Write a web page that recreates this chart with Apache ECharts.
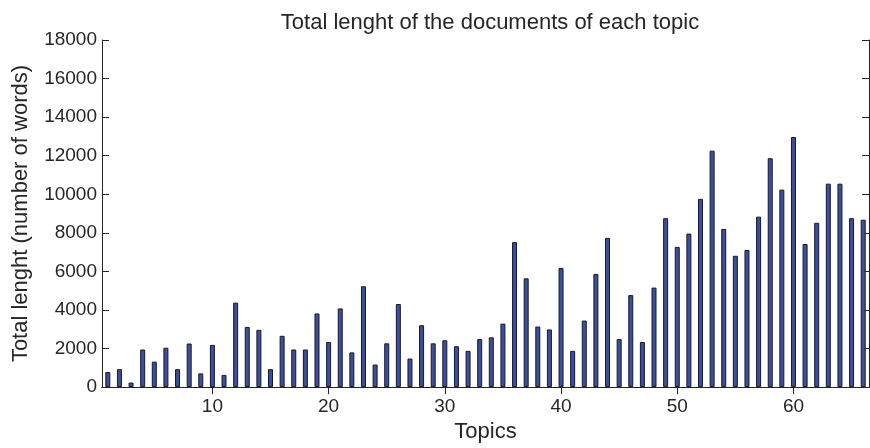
<!DOCTYPE html>
<html>
<head>
<meta charset="utf-8">
<script src="https://cdn.jsdelivr.net/npm/echarts@6/dist/echarts.min.js"></script>
<style>
  html, body { margin: 0; padding: 0; background: #fff; }
  #chart { width: 870px; height: 448px; }
</style>
</head>
<body>
<div id="chart"></div>
<script>
// Topic index for each bar
var topics = [
  1, 2, 3, 4, 5, 6, 7, 8, 9, 10,
  11, 12, 13, 14, 15, 16, 17, 18, 19, 20,
  21, 22, 23, 24, 25, 26, 27, 28, 29, 30,
  31, 32, 33, 34, 35, 36, 37, 38, 39, 40,
  41, 42, 43, 44, 45, 46, 47, 48, 49, 50,
  51, 52, 53, 54, 55, 56, 57, 58, 59, 60,
  61, 62, 63, 64, 65, 66
];

// Total number of words in the documents of each topic
var totalLength = [
  780, 930, 235, 1950, 1320, 2040, 930, 2260, 710, 2190,
  630, 4380, 3120, 2970, 930, 2660, 1950, 1950, 3820, 2340,
  4080, 1800, 5230, 1170, 2270, 4310, 1480, 3210, 2270, 2430,
  2120, 1880, 2490, 2580, 3290, 7520, 5640, 3140, 2990, 6180,
  1880, 3450, 5870, 7740, 2490, 4770, 2340, 5160, 8760, 7270,
  7960, 9760, 12260, 8200, 6810, 7110, 8840, 11870, 10240, 12970,
  7420, 8520, 10550, 10550, 8760, 8680
];

// Labelled ticks on the topic axis
var topicTicks = [10, 20, 30, 40, 50, 60];

var ink = '#262626';
var font = 'Liberation Sans, Arial, Helvetica, sans-serif';

function isTick(idx) {
  return topicTicks.indexOf(topics[idx]) !== -1;
}

var chart = echarts.init(document.getElementById('chart'), null, { renderer: 'canvas' });

var xBase = {
  type: 'category',
  data: topics,
  boundaryGap: true,
  axisLine: { show: true, lineStyle: { color: ink, width: 1 } },
  axisTick: {
    show: true, inside: true, length: 7, alignWithLabel: true,
    interval: function (idx) { return isTick(idx); },
    lineStyle: { color: ink, width: 1 }
  },
  splitLine: { show: false }
};

var yBase = {
  type: 'value',
  min: 0, max: 18000, interval: 2000,
  axisLine: { show: true, lineStyle: { color: ink, width: 1 } },
  axisTick: { show: true, inside: true, length: 7, lineStyle: { color: ink, width: 1 } },
  splitLine: { show: false }
};

chart.setOption({
  animation: false,
  backgroundColor: '#ffffff',
  title: {
    text: 'Total lenght of the documents of each topic',
    left: 485, top: 7, textAlign: 'center',
    textStyle: { fontFamily: font, fontSize: 22, fontWeight: 'normal', color: ink }
  },
  grid: { left: 102, top: 40, width: 767, height: 352, containLabel: false },
  xAxis: [
    Object.assign({}, xBase, {
      position: 'bottom',
      name: 'Topics', nameLocation: 'middle', nameGap: 33,
      nameTextStyle: { fontFamily: font, fontSize: 22, color: ink },
      axisLabel: {
        show: true, margin: 10,
        interval: function (idx) { return isTick(idx); },
        fontFamily: font, fontSize: 19, color: ink
      }
    }),
    Object.assign({}, xBase, {
      position: 'top',
      axisLabel: { show: false }
    })
  ],
  yAxis: [
    Object.assign({}, yBase, {
      position: 'left',
      name: 'Total lenght (number of words)', nameLocation: 'middle', nameGap: 70,
      nameRotate: 90,
      nameTextStyle: { fontFamily: font, fontSize: 22, color: ink },
      axisLabel: {
        show: true, margin: 5, fontFamily: font, fontSize: 19, color: ink,
        formatter: function (v) { return String(v); }
      }
    }),
    Object.assign({}, yBase, {
      position: 'right',
      axisLabel: { show: false }
    })
  ],
  series: [{
    type: 'bar',
    xAxisIndex: 0, yAxisIndex: 0,
    data: totalLength,
    barWidth: 5,
    itemStyle: { color: '#3a4ea6', borderColor: '#1a1a1a', borderWidth: 1 }
  }]
});
</script>
</body>
</html>
